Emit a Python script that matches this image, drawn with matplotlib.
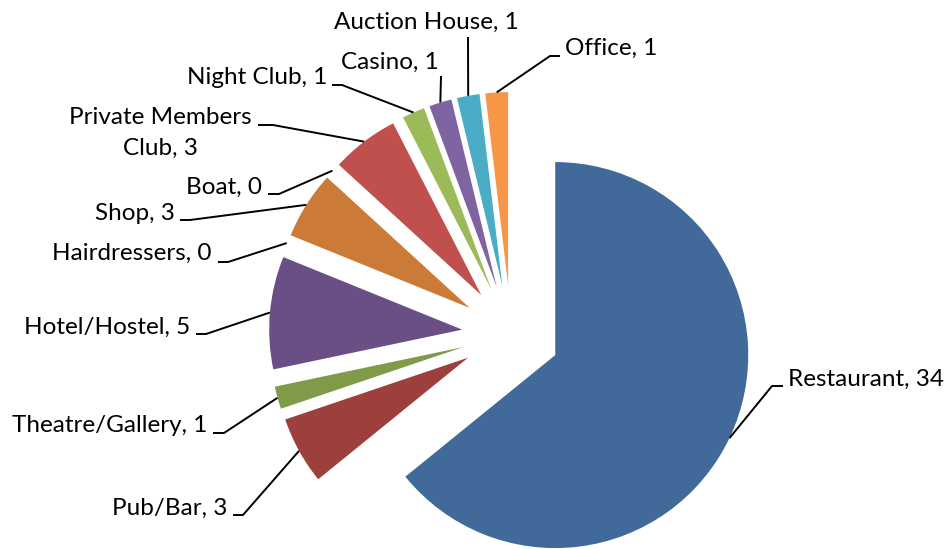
import numpy as np
import matplotlib
matplotlib.use("Agg")
import matplotlib.pyplot as plt

categories = ["Restaurant", "Pub/Bar", "Theatre/Gallery", "Hotel/Hostel", "Hairdressers",
              "Shop", "Boat", "Private Members\nClub", "Night Club", "Casino",
              "Auction House", "Office"]
values = [34, 3, 1, 5, 0, 3, 0, 3, 1, 1, 1, 1]
colors = ["#416A9B", "#9C3F3D", "#7F9A48", "#694F86", "#3F8FA5", "#CB7A37",
          "#2C4D75", "#C0504D", "#9BBB59", "#8064A2", "#4BACC6", "#F79646"]

W, H = 951, 549
fig = plt.figure(figsize=(W / 100, H / 100), dpi=100)
ax = fig.add_axes([0, 0, 1, 1])

cx, cy = 511, H - 334
R = 193
EXP = 49

ax.pie(values, radius=R, center=(cx, cy), explode=[EXP] * len(values),
       startangle=90, counterclock=False, colors=colors,
       wedgeprops=dict(linewidth=0))
ax.set_xlim(0, W)
ax.set_ylim(0, H)
ax.set_aspect("equal")
ax.axis("off")

# label layout (image pixel coords): text anchor x, y, ha, leader elbow points
layout = {
    "Restaurant": (788, 379, "left", [(783, 386), (772, 386)]),
    "Pub/Bar": (227, 508, "right", [(233, 515), (243, 515)]),
    "Theatre/Gallery": (207, 426, "right", [(213, 433), (224, 433)]),
    "Hotel/Hostel": (190, 327, "right", [(196, 334), (206, 334)]),
    "Hairdressers": (212, 253, "right", [(218, 262), (228, 262)]),
    "Shop": (175, 213, "right", [(180, 220), (190, 220)]),
    "Boat": (262, 187, "right", [(268, 194), (279, 194)]),
    "Private Members\nClub": (160, 133, "center", [(258, 125), (273, 125)]),
    "Night Club": (327, 77, "right", [(332, 85), (342, 85)]),
    "Casino": (390, 62, "center", [(441, 76)]),
    "Auction House": (426, 22, "center", [(468, 37)]),
    "Office": (565, 48, "left", [(560, 56), (550, 56)]),
}

font = dict(family=["Lato", "DejaVu Sans"], fontsize=17.5, color="black")
total = sum(values)
cum = 0
for cat, v in zip(categories, values):
    mid_frac = (cum + v / 2) / total
    cum += v
    theta = np.deg2rad(90 - 360 * mid_frac)
    px = cx + (R + EXP) * np.cos(theta)
    py = cy + (R + EXP) * np.sin(theta)
    tx, ty, ha, pts = layout[cat]
    ax.text(tx, H - ty, f"{cat}, {v}", ha=ha, va="center", multialignment="center",
            linespacing=1.6, **font)
    xs = [p[0] for p in pts] + [px]
    ys = [H - p[1] for p in pts] + [py]
    ax.plot(xs, ys, color="black", lw=1.4, solid_capstyle="butt")

fig.savefig("out.png", dpi=100)
